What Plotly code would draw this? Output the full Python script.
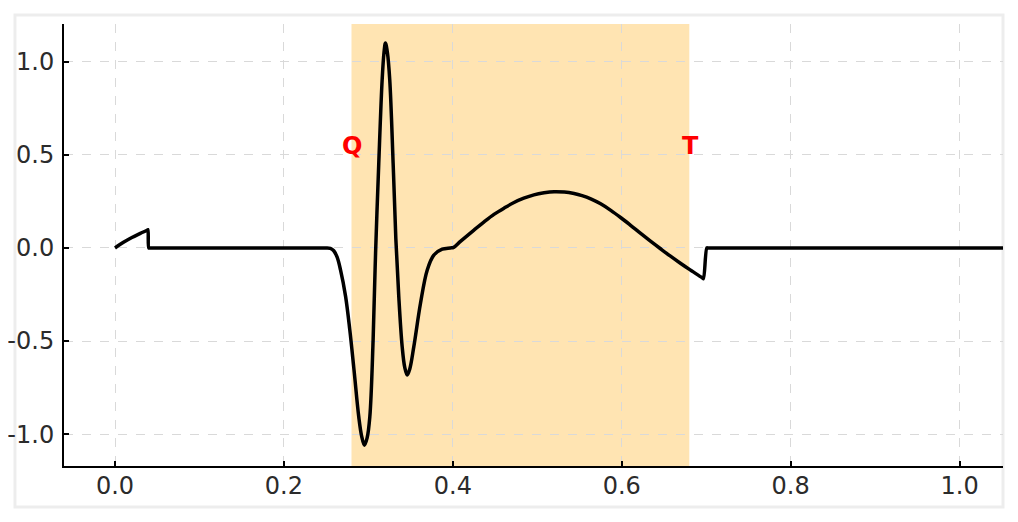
import plotly.graph_objects as go

# ECG-like waveform
t = [0.000, 0.010, 0.020, 0.030, 0.0385, 0.039, 0.040, 0.041,
     0.245, 0.250, 0.255, 0.259, 0.263, 0.267, 0.273, 0.278, 0.283, 0.2886, 0.292,
     0.2953, 0.2985, 0.3017, 0.3056, 0.3085, 0.3123, 0.3163, 0.3185, 0.3202,
     0.3225, 0.3253, 0.3293, 0.3325, 0.336, 0.340, 0.343, 0.346, 0.349,
     0.3538, 0.3617, 0.3697, 0.3775, 0.3874, 0.397, 0.401,
     0.409, 0.425, 0.437, 0.4487, 0.461, 0.4724, 0.484, 0.496, 0.508, 0.520,
     0.532, 0.5435, 0.553, 0.5633, 0.575, 0.587, 0.599, 0.6108, 0.622,
     0.6336, 0.6455, 0.6573, 0.669, 0.681, 0.6960, 0.6968, 0.7008, 0.702, 1.060]
v = [0.000, 0.030, 0.056, 0.078, 0.0965, 0.098, 0.000, 0.000,
     0.000, 0.000, -0.002, -0.015, -0.050, -0.118, -0.260, -0.440, -0.656, -0.907, -1.010,
     -1.059, -1.020, -0.907, -0.495, -0.030, 0.455, 0.903, 1.050, 1.100,
     1.050, 0.903, 0.455, 0.050, -0.262, -0.530, -0.640, -0.683, -0.650,
     -0.530, -0.297, -0.118, -0.038, -0.007, 0.000, 0.003,
     0.035, 0.096, 0.140, 0.180, 0.215, 0.244, 0.267, 0.285, 0.296, 0.302,
     0.300, 0.292, 0.281, 0.264, 0.237, 0.202, 0.162, 0.120, 0.079,
     0.038, -0.003, -0.043, -0.081, -0.118, -0.1625, -0.165, 0.000, 0.000, 0.000]

span_start = 0.28
span_end = 0.68
labels = ["Q", "T"]
label_x = [0.281, 0.681]
label_y = [0.548, 0.548]

x_ticks = [0.0, 0.2, 0.4, 0.6, 0.8, 1.0]
x_ticktext = ["0.0", "0.2", "0.4", "0.6", "0.8", "1.0"]
y_ticks = [1.0, 0.5, 0.0, -0.5, -1.0]
y_ticktext = ["1.0", "0.5", "0.0", "-0.5", "-1.0"]

FONT = "DejaVu Sans"

fig = go.Figure()
fig.add_trace(go.Scatter(
    x=t, y=v, mode="lines",
    line=dict(color="black", width=3.5, shape="spline", smoothing=1.0),
    hoverinfo="skip", showlegend=False,
))

# shaded Q-T span
fig.add_shape(type="rect", xref="x", yref="paper",
              x0=span_start, x1=span_end, y0=0, y1=1,
              fillcolor="rgba(255,165,0,0.3)", line=dict(width=0),
              layer="below")

# card outline / shadow
fig.add_shape(type="rect", xref="paper", yref="paper",
              x0=-0.0522, x1=1.0, y0=-0.0928, y1=1.0204,
              line=dict(color="rgba(0,0,0,0.07)", width=3),
              fillcolor="rgba(0,0,0,0)", layer="below")

for lab, lx, ly in zip(labels, label_x, label_y):
    fig.add_annotation(x=lx, y=ly, text="<b>%s</b>" % lab, showarrow=False,
                       xanchor="center", yanchor="middle",
                       font=dict(family=FONT, size=24, color="red"))

axis_common = dict(
    showline=True, linecolor="black", linewidth=2, mirror=False,
    ticks="inside", ticklen=5, tickwidth=1.5, tickcolor="black",
    showgrid=True, gridcolor="#d9d9d9", griddash="dash", gridwidth=1,
    zeroline=False, automargin=False,
    tickfont=dict(family=FONT, size=24, color="#2b2b2b"),
)

fig.update_xaxes(range=[-0.0604, 1.0514], tickvals=x_ticks, ticktext=x_ticktext,
                 ticklabelstandoff=-3, **axis_common)
fig.update_yaxes(range=[-1.171, 1.2025], tickvals=y_ticks, ticktext=y_ticktext,
                 ticklabelstandoff=3, **axis_common)

# page is rendered with an 8px body margin, so the figure is offset by 8px
fig.update_layout(
    width=1010, height=514,
    margin=dict(l=56, r=15, t=16, b=56),
    paper_bgcolor="white", plot_bgcolor="white",
    font=dict(family=FONT),
    showlegend=False,
)

fig.write_html("out.html")
